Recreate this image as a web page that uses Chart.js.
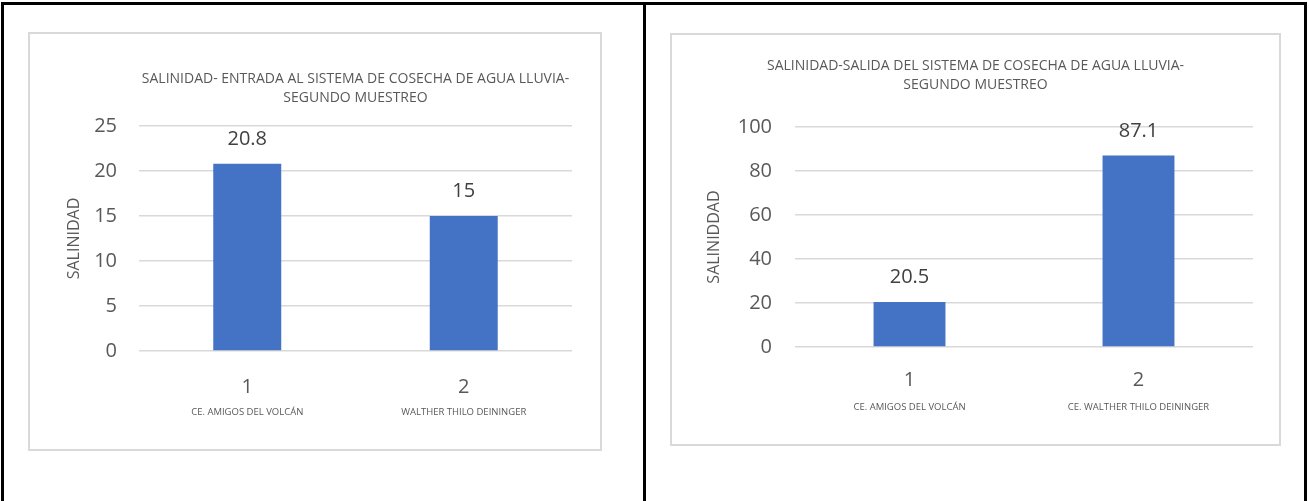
<!DOCTYPE html>
<html>
<head>
<meta charset="utf-8">
<script src="https://cdn.jsdelivr.net/npm/chart.js@4/dist/chart.umd.min.js"></script>
<style>
  html, body { margin: 0; padding: 0; background: #fff; }
  #page { position: relative; width: 1309px; height: 501px; overflow: hidden; }
  .rule { position: absolute; background: #000; }
  .box { position: absolute; border: 2px solid #d9d9d9; box-sizing: border-box; background: #fff; }
  .box canvas { display: block; }
</style>
</head>
<body>
<div id="page">
  <div class="rule" style="left:1px; top:2px; width:1306px; height:3px;"></div>
  <div class="rule" style="left:1px; top:2px; width:3px; height:499px;"></div>
  <div class="rule" style="left:643px; top:2px; width:3px; height:499px;"></div>
  <div class="rule" style="left:1304px; top:2px; width:3px; height:499px;"></div>

  <div class="box" style="left:28px; top:32px; width:574px; height:419px;">
    <canvas id="entradaChart"></canvas>
  </div>
  <div class="box" style="left:670px; top:33px; width:611px; height:413px;">
    <canvas id="salidaChart"></canvas>
  </div>
</div>

<script>
// puntos de muestreo (mismo orden en ambos gráficos)
const muestraNums = ["1", "2"];
const nombresEntrada = ["CE. AMIGOS DEL VOLCÁN", "WALTHER THILO DEININGER"];
const nombresSalida = ["CE. AMIGOS DEL VOLCÁN", "CE. WALTHER THILO DEININGER"];

// salinidad medida, segundo muestreo
const salinidadEntrada = [20.8, 15];
const salinidadSalida = [20.5, 87.1];

const tituloEntrada = ["SALINIDAD- ENTRADA AL SISTEMA DE COSECHA DE AGUA LLUVIA-", "SEGUNDO MUESTREO"];
const tituloSalida = ["SALINIDAD-SALIDA DEL SISTEMA DE COSECHA DE AGUA LLUVIA-", "SEGUNDO MUESTREO"];

const FONT = "'Open Sans', 'Noto Sans', sans-serif";
const TEXT = "#595959";
const GRID = "#d9d9d9";
const BAR = "#4472c4";

Chart.defaults.font.family = FONT;
Chart.defaults.color = TEXT;

// etiqueta de valor encima de cada barra
const valueLabels = {
  id: "valueLabels",
  afterDatasetsDraw(chart) {
    const ctx = chart.ctx;
    const meta = chart.getDatasetMeta(0);
    const data = chart.data.datasets[0].data;
    ctx.save();
    ctx.font = "20px " + FONT;
    ctx.fillStyle = "#404040";
    ctx.textAlign = "center";
    ctx.textBaseline = "middle";
    meta.data.forEach((bar, i) => {
      ctx.fillText(String(data[i]), bar.x, bar.y - 24.5);
    });
    ctx.restore();
  },
};

function makeChart(canvas, cfg) {
  return new Chart(canvas, {
    type: "bar",
    data: {
      labels: muestraNums,
      datasets: [{
        data: cfg.values,
        backgroundColor: BAR,
        borderWidth: 0,
        categoryPercentage: 1,
        barPercentage: 0.314,
      }],
    },
    options: {
      responsive: true,
      maintainAspectRatio: false,
      animation: false,
      layout: { padding: { left: cfg.padLeft, right: cfg.padRight, top: 0, bottom: 0 } },
      plugins: {
        legend: { display: false },
        tooltip: { enabled: false },
        title: {
          display: true,
          text: cfg.title,
          fullSize: cfg.titleFull,
          color: TEXT,
          font: { size: 14, weight: "normal", lineHeight: 1.36 },
          padding: { top: cfg.titleTop, bottom: cfg.titleBottom },
        },
      },
      scales: {
        y: {
          min: 0,
          max: cfg.max,
          border: { display: false },
          grid: { color: GRID, lineWidth: 1.5, drawTicks: false },
          ticks: { stepSize: cfg.step, padding: cfg.tickPad, color: TEXT, font: { size: 20 } },
          title: {
            display: true,
            text: cfg.yTitle,
            color: TEXT,
            font: { size: 16 },
            padding: { top: cfg.yTitlePad, bottom: 0 },
          },
          afterFit(scale) { scale.width = cfg.yWidth; },
        },
        x: {
          border: { display: false },
          grid: { display: false },
          ticks: { padding: cfg.xPad, color: TEXT, font: { size: 20 } },
          afterFit(scale) { scale.height = cfg.xHeight; },
        },
        x2: {
          type: "category",
          position: "bottom",
          labels: cfg.names,
          border: { display: false },
          grid: { display: false },
          ticks: { padding: 4, color: TEXT, font: { size: 9.5 } },
          afterFit(scale) { scale.height = cfg.x2Height; },
        },
      },
    },
    plugins: [valueLabels],
  });
}

makeChart(document.getElementById("entradaChart"), {
  values: salinidadEntrada,
  names: nombresEntrada,
  title: tituloEntrada,
  titleFull: false,
  titleTop: 35,
  titleBottom: 19,
  max: 25,
  step: 5,
  yTitle: "SALINIDAD",
  yTitlePad: 35,
  yWidth: 109,
  tickPad: 22,
  padLeft: 0,
  padRight: 28,
  xPad: 16,
  xHeight: 44,
  x2Height: 54,
});

// el título va centrado en todo el recuadro: mismo margen a ambos lados
makeChart(document.getElementById("salidaChart"), {
  values: salinidadSalida,
  names: nombresSalida,
  title: tituloSalida,
  titleFull: true,
  titleTop: 21,
  titleBottom: 33,
  max: 100,
  step: 20,
  yTitle: "SALINIDDAD",
  yTitlePad: 7,
  yWidth: 97,
  tickPad: 23,
  padLeft: 26,
  padRight: 26,
  xPad: 13,
  xHeight: 43,
  x2Height: 54,
});
</script>
</body>
</html>
